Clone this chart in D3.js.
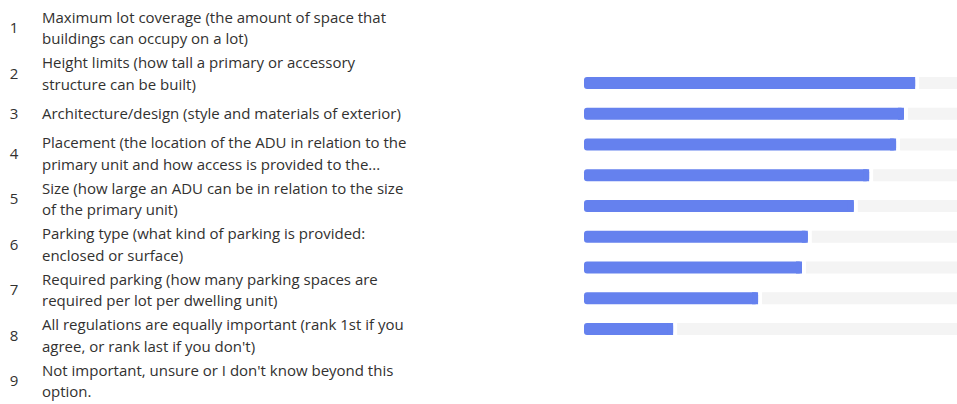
<!doctype html>
<html>
  <head>
    <script src="https://d3js.org/d3.v7.min.js"></script>
    <style>
      body { margin: 0; background: #ffffff; }
      svg { display: block; }
    </style>
  </head>

  <body>
    <svg class="chart" width="957" height="404"></svg>

    <script>
        // rank order and option texts (as wrapped in the form summary)
        var ranks = [1, 2, 3, 4, 5, 6, 7, 8, 9];
        var options = [
            ["Maximum lot coverage (the amount of space that", "buildings can occupy on a lot)"],
            ["Height limits (how tall a primary or accessory", "structure can be built)"],
            ["Architecture/design (style and materials of exterior)"],
            ["Placement (the location of the ADU in relation to the", "primary unit and how access is provided to the..."],
            ["Size (how large an ADU can be in relation to the size", "of the primary unit)"],
            ["Parking type (what kind of parking is provided:", "enclosed or surface)"],
            ["Required parking (how many parking spaces are", "required per lot per dwelling unit)"],
            ["All regulations are equally important (rank 1st if you", "agree, or rank last if you don't)"],
            ["Not important, unsure or I don't know beyond this", "option."]
        ];
        // average rank score
        var scores = [7.99, 7.72, 7.53, 6.88, 6.51, 5.40, 5.26, 4.20, 2.15];
        var maxScore = 9;

        var svg = d3.select("svg");

        // ---- left list of options ----
        var lineH = 21.5,
            minRow = 34.5,
            rowPad = 2.5,
            listTop = 5.25;
        var rows = [];
        var y0 = listTop;
        options.forEach(function(lines, i){
            var h = Math.max(minRow, lines.length * lineH + rowPad);
            rows.push({rank: ranks[i], lines: lines, cy: y0 + h / 2});
            y0 += h;
        });

        var list = svg.append("g")
            .style("font-family", "'Open Sans', 'Noto Sans', sans-serif")
            .style("font-size", "15px")
            .style("fill", "#323130");

        var row = list.selectAll(".row")
            .data(rows)
            .enter().append("g")
                .attr("class", "row")
                .attr("transform", function(d){ return "translate(0," + d.cy + ")"; });

        row.append("text")
            .attr("x", 14)
            .attr("dy", "0.35em")
            .attr("text-anchor", "middle")
            .text(function(d){ return d.rank; });

        row.selectAll(".line")
            .data(function(d){
                var n = d.lines.length;
                return d.lines.map(function(t, k){ return {t: t, off: (k - (n - 1) / 2) * lineH}; });
            })
            .enter().append("text")
                .attr("class", "line")
                .attr("x", 42)
                .attr("y", function(d){ return d.off; })
                .attr("dy", "0.35em")
                .text(function(d){ return d.t; });

        // ---- bars ----
        var xScale = d3.scaleLinear().domain([0, maxScore]).range([584, 957]);
        var yScale = d3.scalePoint().domain(ranks).range([83, 329]);
        var barH = 12;

        var bars = svg.append("g");

        // grey remainder track
        bars.selectAll(".track")
            .data(scores)
            .enter().append("rect")
                .attr("class", "track")
                .attr("x", function(d){ return xScale(d) + 4; })
                .attr("y", function(d, i){ return yScale(ranks[i]) - barH / 2; })
                .attr("width", function(d){ return xScale.range()[1] - xScale(d) - 4 + 20; })
                .attr("height", barH)
                .attr("fill", "#f4f4f4");

        // blue value bar, rounded on the left
        bars.selectAll(".bar")
            .data(scores)
            .enter().append("rect")
                .attr("class", "bar")
                .attr("x", xScale(0))
                .attr("y", function(d, i){ return yScale(ranks[i]) - barH / 2; })
                .attr("width", function(d){ return xScale(d) - xScale(0); })
                .attr("height", barH)
                .attr("rx", 3)
                .attr("fill", "#6581ee");

        bars.selectAll(".barEnd")
            .data(scores)
            .enter().append("rect")
                .attr("class", "barEnd")
                .attr("x", function(d){ return xScale(d) - 6; })
                .attr("y", function(d, i){ return yScale(ranks[i]) - barH / 2; })
                .attr("width", 6)
                .attr("height", barH)
                .attr("fill", "#6581ee");
    </script>
  </body>
</html>
